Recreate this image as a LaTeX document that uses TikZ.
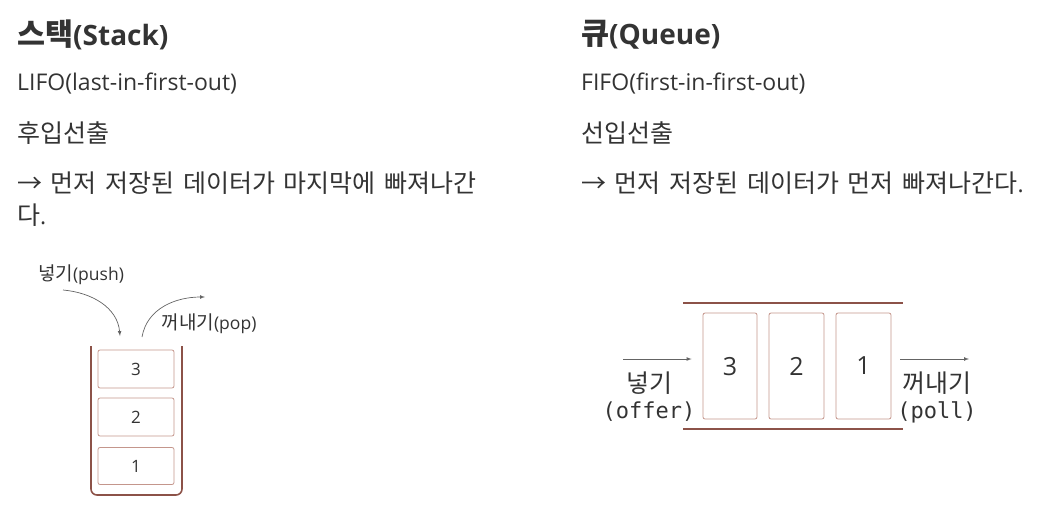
\documentclass[tikz,border=0pt]{standalone}
\usepackage{fontspec}
\setmainfont{Open Sans}
\setmonofont{DejaVu Sans Mono}
\newfontfamily\kr{Noto Sans CJK KR}[Scale=1.087, WordSpace=1.55]
\usepackage{tikz}
\usetikzlibrary{arrows,positioning,calc}
\definecolor{textgray}{RGB}{51,51,51}
\definecolor{wallbrown}{RGB}{140,82,72}
\definecolor{boxbrown}{RGB}{196,150,140}
\definecolor{arrowgray}{RGB}{100,100,100}

\begin{document}
\begin{tikzpicture}[x=1pt, y=-1pt,
    heading/.style={anchor=west, text=textgray, font=\fontsize{28}{32}\selectfont\bfseries, inner sep=0pt},
    bodytext/.style={anchor=west, text=textgray, font=\fontsize{23}{27}\selectfont, inner sep=0pt},
    cell/.style={draw=boxbrown, rounded corners=2pt, line width=0.8pt, text=textgray},
    smalllabel/.style={text=textgray, font=\fontsize{17.5}{20}\selectfont, inner sep=0pt},
    flow/.style={draw=arrowgray, line width=0.7pt, -latex}]
  \useasboundingbox (0,0) rectangle (1055,506);
  % Left column: stack
  \node[heading] (stacktitle) at (17,35) {{\kr 스택}(Stack)};
  \node[bodytext] (lifo) at (17,84) {LIFO(last-in-first-out)};
  \node[bodytext] (lifokr) at (17,133) {\kr 후입선출};
  \node[bodytext] (lifodesc1) at (17,183) {\kr → 먼저 저장된 데이터가 마지막에 빠져나간};
  \node[bodytext] (lifodesc2) at (17,215) {{\kr 다}.};
  % Right column: queue
  \node[heading] (queuetitle) at (581,35) {{\kr 큐}(Queue)};
  \node[bodytext] (fifo) at (581,84) {FIFO(first-in-first-out)};
  \node[bodytext] (fifokr) at (581,133) {\kr 선입선출};
  \node[bodytext] (fifodesc) at (581,183) {{\kr → 먼저 저장된 데이터가 먼저 빠져나간다}.};

  % Stack container and cells
  \draw[wallbrown, line width=1.6pt, rounded corners=6pt] (91,346) -- (91,495) -- (182,495) -- (182,346);
  \node[cell, minimum width=76pt, minimum height=38pt, font=\fontsize{17}{19}\selectfont] (s3) at (136,369) {3};
  \node[cell, minimum width=76pt, minimum height=38pt, font=\fontsize{17}{19}\selectfont] (s2) at (136,417) {2};
  \node[cell, minimum width=76pt, minimum height=37pt, font=\fontsize{17}{19}\selectfont] (s1) at (136,466) {1};
  \node[smalllabel] (pushlbl) at (81,275) {{\kr 넣기}(push)};
  \node[smalllabel] (poplbl) at (209,324) {{\kr 꺼내기}(pop)};
  \coordinate (pushstart) at (63,290);
  \coordinate (pushend) at (120,336);
  \coordinate (popstart) at (142,337);
  \coordinate (popend) at (205,297);
  \draw[flow] (pushstart) to[out=-5, in=95] (pushend);
  \draw[flow] (popstart) to[out=80, in=180] (popend);

  % Queue walls and cells
  \draw[wallbrown, line width=1.6pt] (683,303) -- (903,303);
  \draw[wallbrown, line width=1.6pt] (683,429) -- (903,429);
  \node[cell, minimum width=54pt, minimum height=106pt, font=\fontsize{25}{27}\selectfont, text depth=0pt] (q3) at (730,366) {3};
  \node[cell, minimum width=55pt, minimum height=106pt, font=\fontsize{25}{27}\selectfont, text depth=0pt] (q2) at (796.5,366) {2};
  \node[cell, minimum width=55pt, minimum height=106pt, font=\fontsize{25}{27}\selectfont, text depth=0pt] (q1) at (863.5,366) {1};
  \coordinate (offerstart) at (623,359);
  \coordinate (pollend) at (969,359);
  \draw[flow] (offerstart) -- ([xshift=-11pt]q3.west |- offerstart);
  \draw[flow] ([xshift=9pt]q1.east |- pollend) -- (pollend);
  \node[smalllabel, font=\fontsize{23}{25}\selectfont\kr] (offerkr) at (649,383) {넣기};
  \node[smalllabel, font=\ttfamily\fontsize{22}{24}\selectfont] (offeren) at (649,412) {(offer)};
  \node[smalllabel, font=\fontsize{23}{25}\selectfont\kr] (pollkr) at (937,383) {꺼내기};
  \node[smalllabel, font=\ttfamily\fontsize{22}{24}\selectfont] (pollen) at (937,412) {(poll)};
\end{tikzpicture}
\end{document}
